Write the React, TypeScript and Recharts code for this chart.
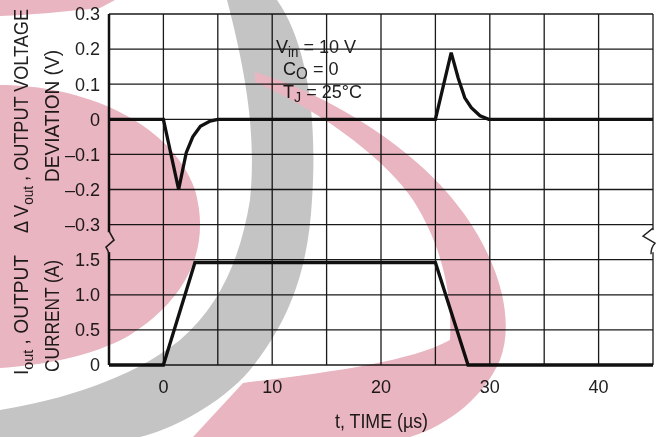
import React from 'react';
import {
  ComposedChart,
  Line,
  XAxis,
  YAxis,
  CartesianGrid,
  ReferenceDot,
} from 'recharts';

// output voltage deviation (V) vs time (us)
const timeV = [
  -5, 0, 1.4, 2.1, 2.7, 3.4, 4.3, 5, 25, 26.45, 27.1, 27.7, 28.3, 29.1, 29.9,
  45,
];
const deltaV = [
  0, 0, -0.2, -0.095, -0.05, -0.02, -0.005, 0, 0, 0.19, 0.117, 0.061, 0.033,
  0.01, 0, 0,
];

// output current (A) vs time (us)
const timeI = [-5, 0, 2.9, 25.0, 28.0, 45];
const currentI = [0, 0, 1.46, 1.46, 0, 0];

// grid / tick layout
const xTicks = [-5, 0, 5, 10, 15, 20, 25, 30, 35, 40, 45];
const xTickLabels = ['', '0', '', '10', '', '20', '', '30', '', '40', ''];
const yTicks = [0.3, 0.2, 0.1, 0, -0.1, -0.2, -0.3, -0.4, -0.5, -0.6, -0.7];
const voltLabels = ['0.3', '0.2', '0.1', '0', '–0.1', '–0.2', '–0.3'];
const currentLabels = ['1.5', '1.0', '0.5', '0'];
const yTickLabels = [...voltLabels, ...currentLabels];

const voltageData = timeV.map((t, i) => ({ t, v: deltaV[i] }));
const currentData = timeI.map((t, i) => ({ t, a: currentI[i] }));

const FONT = "'Liberation Sans', Arial, Helvetica, sans-serif";
const INK = '#222';

const labelAt = (ticks: number[], labels: string[]) => (v: number) => {
  let best = 0;
  ticks.forEach((t, i) => {
    if (Math.abs(t - v) < Math.abs(ticks[best] - v)) best = i;
  });
  return labels[best];
};

const BreakLeft = (props: any) => {
  const { cx, cy } = props;
  return (
    <g>
      <rect x={cx - 3} y={cy - 10} width={6} height={20} fill="#fff" />
      <path
        d={`M${cx},${cy - 11} L${cx + 5},${cy - 2} L${cx - 3},${cy + 5} Q${cx - 1},${cy + 8} ${cx},${cy + 12}`}
        fill="none"
        stroke="#222"
        strokeWidth={1.6}
      />
    </g>
  );
};

const BreakRight = (props: any) => {
  const { cx, cy } = props;
  return (
    <g>
      <rect x={cx - 2} y={cy - 12} width={5} height={22} fill="#fff" />
      <path
        d={`M${cx},${cy - 14} L${cx - 10},${cy - 6} L${cx + 2},${cy + 1} Q${cx - 2},${cy + 5} ${cx - 2},${cy + 12}`}
        fill="none"
        stroke="#222"
        strokeWidth={1.4}
      />
    </g>
  );
};

export default function App() {
  return (
    <div style={{ position: 'absolute', left: 0, top: 0, width: 662, height: 437, background: '#fff' }}>
      <ComposedChart
        width={662}
        height={437}
        margin={{ top: 14, right: 9, bottom: 0, left: 0 }}
      >
        <CartesianGrid
          yAxisId="v"
          stroke="#1a1a1a"
          strokeWidth={1.3}
        />
        <XAxis
          dataKey="t"
          type="number"
          domain={[-5, 45]}
          ticks={xTicks}
          tickFormatter={labelAt(xTicks, xTickLabels)}
          height={72}
          tickSize={0}
          tickMargin={15}
          axisLine={false}
          allowDuplicatedCategory={false}
          tick={{ fontSize: 18, fill: INK, fontFamily: FONT }}
        />
        <YAxis
          yAxisId="v"
          type="number"
          domain={[-0.7, 0.3]}
          ticks={yTicks}
          tickFormatter={labelAt(yTicks, yTickLabels)}
          width={109}
          tickSize={0}
          tickMargin={9}
          interval={0}
          axisLine={{ stroke: '#111', strokeWidth: 2.5 }}
          tick={{ fontSize: 18, fill: INK, fontFamily: FONT }}
        />
        <YAxis yAxisId="i" type="number" domain={[0, 5]} orientation="right" width={0} hide />
        <Line
          yAxisId="v"
          data={voltageData}
          dataKey="v"
          type="linear"
          stroke="#111"
          strokeWidth={3.3}
          dot={false}
          isAnimationActive={false}
        />
        <Line
          yAxisId="i"
          data={currentData}
          dataKey="a"
          type="linear"
          stroke="#111"
          strokeWidth={3.3}
          dot={false}
          isAnimationActive={false}
        />
        <ReferenceDot yAxisId="v" x={-5} y={-0.35} ifOverflow="visible" shape={BreakLeft} />
        <ReferenceDot yAxisId="v" x={45} y={-0.35} ifOverflow="visible" shape={BreakRight} />
      </ComposedChart>

      {/* axis titles and test conditions */}
      <svg
        width={662}
        height={437}
        style={{ position: 'absolute', left: 0, top: 0, pointerEvents: 'none' }}
        fontFamily={FONT}
        fill={INK}
      >
        <text transform="translate(28,233) rotate(-90)" fontSize={20} textLength={224} lengthAdjust="spacingAndGlyphs">
          Δ V<tspan fontSize={15} dy={5}>out</tspan>
          <tspan dy={-5}> , OUTPUT VOLTAGE</tspan>
        </text>
        <text transform="translate(59,182) rotate(-90)" fontSize={20} textLength={132} lengthAdjust="spacingAndGlyphs">
          DEVIATION  (V)
        </text>
        <text transform="translate(28,375) rotate(-90)" fontSize={20} textLength={120} lengthAdjust="spacingAndGlyphs">
          I<tspan fontSize={15} dy={5}>out</tspan>
          <tspan dy={-5}> , OUTPUT</tspan>
        </text>
        <text transform="translate(59,372) rotate(-90)" fontSize={20} textLength={112} lengthAdjust="spacingAndGlyphs">
          CURRENT (A)
        </text>

        <text transform="translate(276,0) scale(0.95,1)" fontSize={19}>
          <tspan x={0} y={53}>V</tspan>
          <tspan fontSize={14} dy={4}>in</tspan>
          <tspan dy={-4}> = 10 V</tspan>
          <tspan x={7.4} y={75}>C</tspan>
          <tspan fontSize={16} dy={4}>O</tspan>
          <tspan dy={-4}> = 0</tspan>
          <tspan x={7.4} y={98}>T</tspan>
          <tspan fontSize={15} dy={4}>J</tspan>
          <tspan dy={-4}> = 25°C</tspan>
        </text>

        <text x={335} y={428} fontSize={20} textLength={93} lengthAdjust="spacingAndGlyphs">
          t, TIME (µs)
        </text>
      </svg>

      {/* background watermark */}
      <svg
        width={662}
        height={437}
        style={{ position: 'absolute', left: 0, top: 0, pointerEvents: 'none', mixBlendMode: 'multiply' }}
      >
        <path
          d="M227,0 L277,0 C305,40 318,110 312,200 C308,270 290,320 250,370 C220,405 170,430 140,437 L0,437 L0,410 C60,400 130,380 180,340 C220,305 240,260 250,200 C256,140 248,80 227,0 Z"
          fill="#c4c4c4"
        />
        <path
          d="M0,85 C80,85 170,120 195,190 C212,250 185,300 130,335 C90,358 40,365 0,368 Z"
          fill="#e8b5c1"
        />
        <path d="M0,0 L115,0 L100,8 C60,12 30,15 0,16 Z" fill="#e8b5c1" />
        <path
          d="M255,72 C330,95 420,150 465,215 C500,265 515,320 500,360 C485,395 450,425 410,437 L193,437 L243,383 C330,372 410,362 450,340 C452,300 445,250 413,200 C390,165 330,115 255,82 Z"
          fill="#e8b5c1"
        />
      </svg>
    </div>
  );
}
